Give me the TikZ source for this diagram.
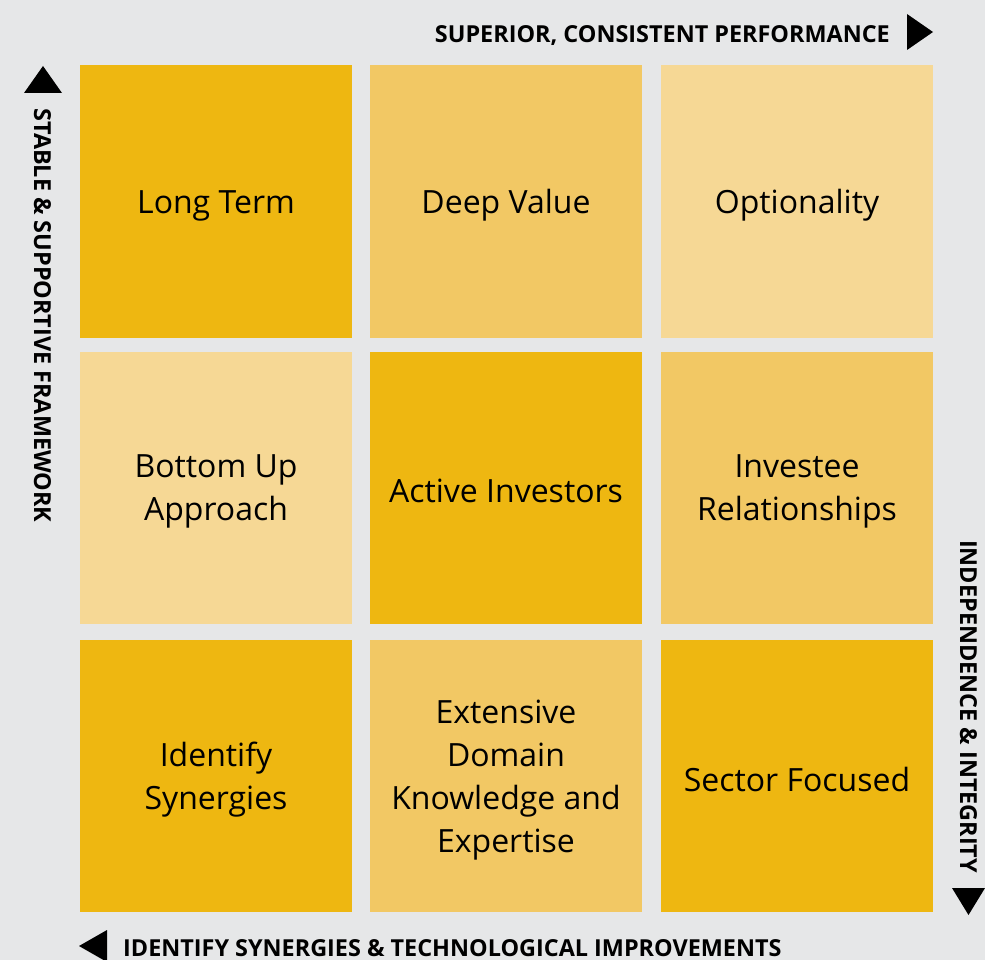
\documentclass[tikz,border=0pt]{standalone}
\usepackage{fontspec}
\setmainfont{Open Sans}
\definecolor{bgc}{HTML}{E6E7E8}
\definecolor{cdark}{HTML}{EEB711}
\definecolor{cmid}{HTML}{F2C864}
\definecolor{clight}{HTML}{F6D895}
\tikzset{
  cell/.style={minimum width=272pt, minimum height=272pt, inner sep=0pt, draw=none},
  celltext/.style={inner sep=0pt, align=center, font=\fontsize{32}{43}\selectfont, text=black},
  axislabel/.style={inner sep=0pt, font=\bfseries\fontsize{23.4}{27}\selectfont, text=black},
  tri/.style={fill=black, draw=none}
}
\begin{document}
\begin{tikzpicture}[x=1pt,y=-1pt]
\fill[bgc] (0,0) rectangle (985,960);
\useasboundingbox (0,0) rectangle (985,960);
% cells
\node[cell, fill=cdark]  (c11) at (216,201.5) {};
\node[cell, fill=cmid]   (c12) at (506,201.5) {};
\node[cell, fill=clight] (c13) at (797,201.5) {};
\node[cell, fill=clight] (c21) at (216,488) {};
\node[cell, fill=cdark]  (c22) at (506,488) {};
\node[cell, fill=cmid]   (c23) at (797,488) {};
\node[cell, fill=cdark]  (c31) at (216,776) {};
\node[cell, fill=cmid]   (c32) at (506,776) {};
\node[cell, fill=cdark]  (c33) at (797,776) {};
\node[celltext] (t11) at ([yshift=-4pt]c11.center) {Long Term};
\node[celltext] (t12) at ([yshift=-4pt]c12.center) {Deep Value};
\node[celltext] (t13) at ([yshift=-4pt]c13.center) {Optionality};
\node[celltext] (t21) at ([yshift=-3pt]c21.center) {Bottom Up\\Approach};
\node[celltext] (t22) at ([yshift=-3pt]c22.center) {Active Investors};
\node[celltext] (t23) at ([yshift=-3pt]c23.center) {Investee\\Relationships};
\node[celltext] (t31) at ([yshift=-4pt]c31.center) {Identify\\Synergies};
\node[celltext] (t32) at ([yshift=-4pt]c32.center) {Extensive\\Domain\\Knowledge and\\Expertise};
\node[celltext] (t33) at ([yshift=-3pt]c33.center) {Sector Focused};
% axis labels
\node[axislabel, anchor=base east] (top) at (890,43) {SUPERIOR, CONSISTENT PERFORMANCE};
\fill[tri] (907,14) -- (933,32) -- (907,50) -- cycle;
\node[axislabel, rotate=-90, anchor=base west] (left) at (34,108) {STABLE \& SUPPORTIVE FRAMEWORK};
\fill[tri] (24,93) -- (43,66) -- (62,93) -- cycle;
\node[axislabel, rotate=-90, anchor=base west] (right) at (960,540) {INDEPENDENCE \& INTEGRITY};
\fill[tri] (952,888) -- (985,888) -- (968.5,915) -- cycle;
\node[axislabel, anchor=base west] (bottom) at (123,956) {IDENTIFY SYNERGIES \& TECHNOLOGICAL IMPROVEMENTS};
\fill[tri] (107,930) -- (79,946) -- (107,962) -- cycle;
\end{tikzpicture}
\end{document}
